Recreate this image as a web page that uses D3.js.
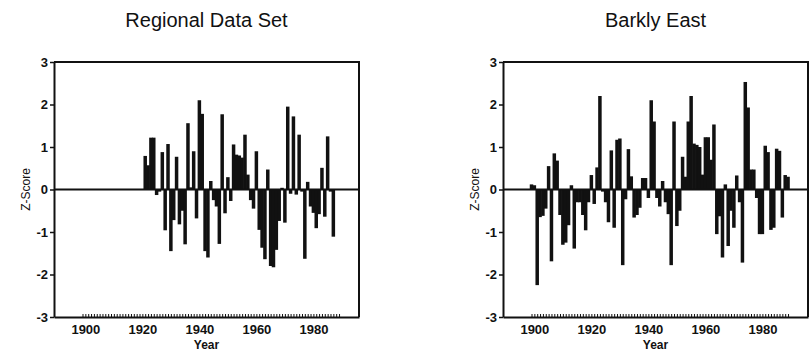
<!DOCTYPE html>
<html>
<head>
<meta charset="utf-8">
<script src="https://cdn.jsdelivr.net/npm/d3@7"></script>
<style>
  body { margin: 0; background: #fff; }
  text { font-family: "Liberation Sans", Arial, sans-serif; fill: #111; }
</style>
</head>
<body>
<svg id="chart" width="812" height="354"></svg>
<script>
// Regional data set, one value per year from 1921
const regionalStart = 1921;
const regionalValues = [
  0.79, 0.57, 1.22, 1.22, -0.13, -0.05, 0.88, -0.96, 1.07, -1.45,
  -0.72, 0.77, -0.82, -0.50, -1.29, 1.56, 0.05, 0.90, -0.68, 2.10,
  1.78, -1.45, -1.60, 0.20, -0.25, -0.40, -1.28, 1.77, -0.56, 0.29,
  -0.27, 1.06, 0.82, 0.80, 0.75, 1.29, 0.35, -0.25, -0.45, 0.90,
  -0.95, -1.37, -1.64, 0.47, -1.80, -1.83, -1.42, -0.74, 0.04, -0.78,
  1.95, -0.10, 1.72, -0.12, 1.29, -0.05, -1.63, 0.18, -0.40, -0.55,
  -0.91, -0.58, 0.51, -0.64, 1.25, -0.05, -1.11
];

// Barkly East, one value per year from 1899
const barklyStart = 1899;
const barklyValues = [
  0.12, 0.10, -2.25, -0.65, -0.62, -0.45, 0.55, -1.69, 0.85, 0.68,
  -0.60, -1.30, -1.25, -0.84, 0.10, -1.39, -0.30, -0.30, -0.60, -0.96,
  -0.30, 0.34, -0.34, 0.52, 2.20, -0.05, -0.30, -0.77, 0.92, -0.90,
  1.17, 1.20, -1.78, -0.23, 0.95, 0.31, -0.66, -0.60, -0.43, 0.27,
  0.27, -0.20, 2.10, 1.60, -0.20, -0.40, 0.20, -0.30, -0.58, -1.78,
  1.60, -0.86, -0.50, 0.77, 0.30, 1.60, 2.20, 1.08, 1.05, 1.00,
  0.35, 1.23, 1.23, 0.70, 1.53, -1.05, -0.63, -1.60, 0.12, -1.33,
  -0.50, -0.90, 0.33, -0.30, -1.72, 2.53, 1.93, 0.47, 0.47, -0.20,
  -1.05, -1.05, 1.03, 0.88, -0.95, -0.90, 0.96, 0.91, -0.66, 0.34,
  0.30
];

const yTicks = [-3, -2, -1, 0, 1, 2, 3];
const majorYears = [1900, 1920, 1940, 1960, 1980];
const minorYears = d3.range(1899, 1990);
const xDomain = [1889, 1996];
const yDomain = [-3, 3];

const svg = d3.select("#chart");

function toSeries(start, values) {
  return values.map((v, i) => ({ year: start + i, value: v }));
}

function drawPanel(left, title, data) {
  const width = 305, height = 255, top = 62;
  const g = svg.append("g").attr("transform", "translate(" + left + "," + top + ")");

  const x = d3.scaleLinear().domain(xDomain).range([0, width]);
  const y = d3.scaleLinear().domain(yDomain).range([height, 0]);
  const barWidth = 3.5;

  // bars
  g.selectAll(".bar")
      .data(data)
    .enter().append("rect")
      .attr("class", "bar")
      .attr("x", d => x(d.year) - barWidth / 2)
      .attr("width", barWidth)
      .attr("y", d => y(Math.max(0, d.value)))
      .attr("height", d => Math.abs(y(d.value) - y(0)))
      .attr("fill", "#111");

  // zero line
  g.append("line")
      .attr("x1", 0).attr("x2", width)
      .attr("y1", y(0)).attr("y2", y(0))
      .attr("stroke", "#111").attr("stroke-width", 2);

  // frame
  g.append("path")
      .attr("d", "M0,0H" + width + "V" + height)
      .attr("fill", "none").attr("stroke", "#111").attr("stroke-width", 2);

  // Y axis
  const yAxis = g.append("g")
      .call(d3.axisLeft(y).tickValues(yTicks).tickSize(4).tickSizeOuter(0)
        .tickPadding(2).tickFormat(d => String(d)));
  yAxis.select(".domain").attr("stroke", "#111").attr("stroke-width", 2);
  yAxis.selectAll(".tick line").attr("stroke", "#111").attr("stroke-width", 1.5);
  yAxis.selectAll("text").style("font-size", "13px").style("font-weight", "bold");

  // X axis, minor ticks every year pointing in
  const xAxis = g.append("g")
      .attr("transform", "translate(0," + height + ")")
      .call(d3.axisBottom(x).tickValues(minorYears).tickSize(-3).tickSizeOuter(0)
        .tickPadding(8).tickFormat(d => majorYears.includes(d) ? String(d) : ""));
  xAxis.select(".domain").attr("stroke", "#111").attr("stroke-width", 2);
  xAxis.selectAll(".tick line").attr("stroke", "#111").attr("stroke-width", 1);
  xAxis.selectAll("text").style("font-size", "13px").style("font-weight", "bold");

  // labels
  g.append("text")
      .attr("x", width / 2).attr("y", -35)
      .attr("text-anchor", "middle")
      .style("font-size", "20px")
      .text(title);

  g.append("text")
      .attr("x", width / 2).attr("y", height + 32)
      .attr("text-anchor", "middle")
      .style("font-size", "12px").style("font-weight", "bold")
      .text("Year");

  g.append("text")
      .attr("transform", "translate(-24," + y(0) + ") rotate(-90)")
      .attr("text-anchor", "middle")
      .style("font-size", "12px")
      .text("Z-Score");
}

drawPanel(54, "Regional Data Set", toSeries(regionalStart, regionalValues));
drawPanel(503, "Barkly East", toSeries(barklyStart, barklyValues));
</script>
</body>
</html>
